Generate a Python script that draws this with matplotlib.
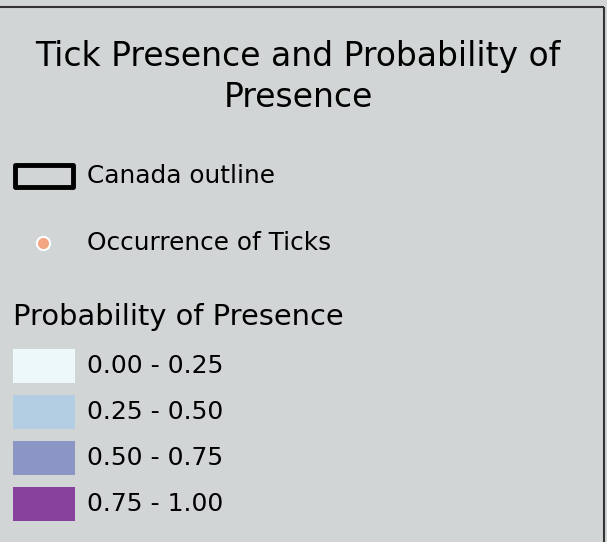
import matplotlib
matplotlib.use("Agg")
import matplotlib.pyplot as plt
from matplotlib.patches import Rectangle

title = "Tick Presence and Probability of\nPresence"
outline_label = "Canada outline"
point_label = "Occurrence of Ticks"
prob_title = "Probability of Presence"
class_labels = ["0.00 - 0.25", "0.25 - 0.50", "0.50 - 0.75", "0.75 - 1.00"]
class_colors = ["#edf8fb", "#b3cde3", "#8c96c6", "#88419d"]
point_color = "#f4a582"
bg = "#d1d5d6"

W, H = 607, 542
fig = plt.figure(figsize=(W / 100, H / 100), dpi=100)
fig.patch.set_facecolor(bg)
ax = fig.add_axes([0, 0, 1, 1])
ax.set_xlim(0, W)
ax.set_ylim(H, 0)
ax.axis("off")

# frame (top and right visible)
ax.plot([0, 604], [6.5, 6.5], color="#333333", lw=1.5, solid_capstyle="butt")
ax.plot([604, 604], [6.5, H], color="#333333", lw=1.5, solid_capstyle="butt")

ax.text(298, 77, title, ha="center", va="center", fontsize=23.8, linespacing=1.32,
        family="DejaVu Sans")

ax.add_patch(Rectangle((15, 165), 58, 22, facecolor="none", edgecolor="black", lw=3.5,
                       joinstyle="round"))
ax.text(87, 176, outline_label, ha="left", va="center", fontsize=17.8)

ax.scatter([43], [243], s=90, color=point_color, edgecolor="white", linewidth=1.5, zorder=3)
ax.text(87, 243, point_label, ha="left", va="center", fontsize=17.8)

ax.text(13, 317, prob_title, ha="left", va="center", fontsize=20.8)

y0 = 349
for i, (lab, col) in enumerate(zip(class_labels, class_colors)):
    y = y0 + i * 46
    ax.add_patch(Rectangle((13, y), 62, 34, facecolor=col, edgecolor="none"))
    ax.text(87, y + 17, lab, ha="left", va="center", fontsize=18)

fig.savefig("out.png", dpi=100, facecolor=bg)
